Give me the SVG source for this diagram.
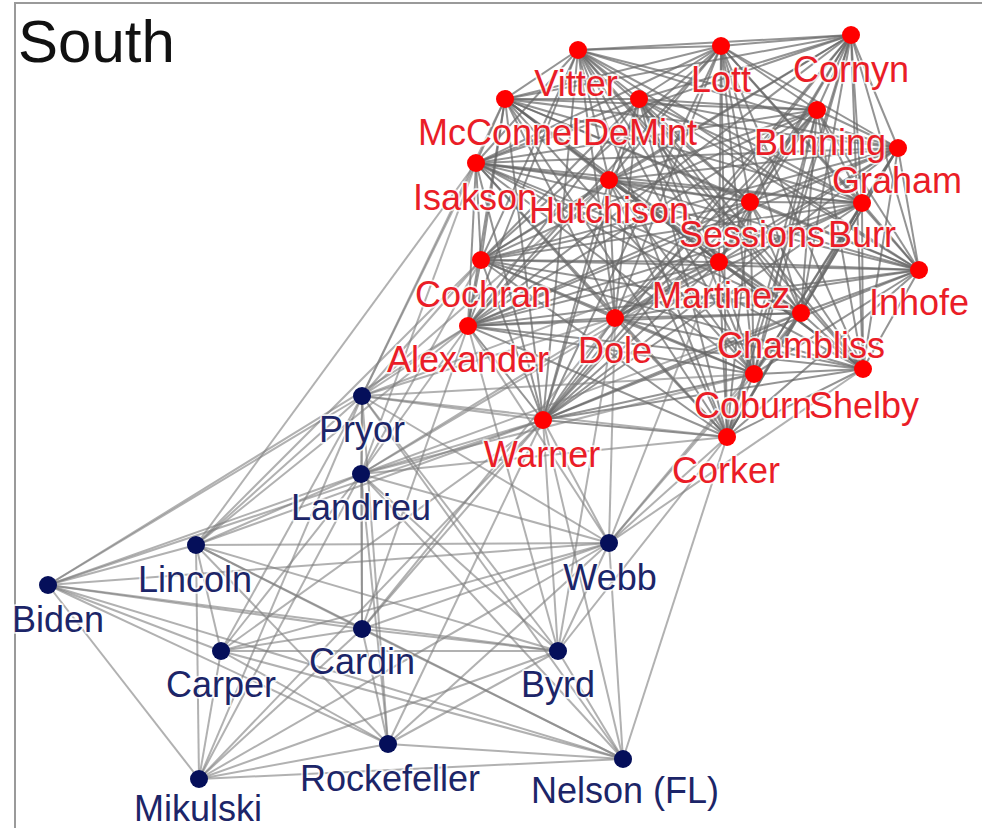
<svg xmlns="http://www.w3.org/2000/svg" width="982" height="828" viewBox="0 0 982 828">
<style>
#edges path{stroke:#7d7d7d;stroke-width:2;stroke-opacity:0.6;fill:none}
#edges #red-edges path{stroke:#666;stroke-opacity:0.7}
.nd text{font-family:"Liberation Sans",Arial,sans-serif;font-size:36px;text-anchor:middle;stroke:#fff;stroke-width:3.5;stroke-opacity:0.8;paint-order:stroke;stroke-linejoin:round}
.r circle{fill:#ff0000}
.r text{fill:#ea1d27}
.b circle{fill:#050f5a}
.b text{fill:#1c2568}
.frame{stroke:#9a9a9a;stroke-width:2;fill:none}
</style>
<rect x="0" y="0" width="982" height="828" fill="#fff"/>
<path class="frame" d="M15 828V3H982"/>
<text x="18" y="62" font-family="'Liberation Sans',Arial,sans-serif" font-size="60" fill="#111">South</text>
<g id="edges">
<g id="red-edges">
<path d="M578 50L721 46"/><path d="M578 50L851 35"/><path d="M578 50L505 99"/><path d="M578 50L639 99"/><path d="M578 50L817 110"/><path d="M578 50L476 163"/><path d="M578 50L609 180"/><path d="M578 50L898 148"/><path d="M578 50L750 202"/><path d="M578 50L862 203"/><path d="M578 50L481 260"/><path d="M578 50L719 262"/><path d="M578 50L919 270"/><path d="M578 50L468 326"/><path d="M578 50L615 318"/><path d="M578 50L801 313"/><path d="M578 50L754 374"/><path d="M578 50L863 369"/><path d="M578 50L543 420"/><path d="M578 50L727 437"/>
<path d="M721 46L851 35"/><path d="M721 46L505 99"/><path d="M721 46L639 99"/><path d="M721 46L817 110"/><path d="M721 46L476 163"/><path d="M721 46L609 180"/><path d="M721 46L898 148"/><path d="M721 46L750 202"/><path d="M721 46L862 203"/><path d="M721 46L481 260"/><path d="M721 46L719 262"/><path d="M721 46L919 270"/><path d="M721 46L468 326"/><path d="M721 46L615 318"/><path d="M721 46L801 313"/><path d="M721 46L754 374"/><path d="M721 46L863 369"/><path d="M721 46L543 420"/><path d="M721 46L727 437"/>
<path d="M851 35L505 99"/><path d="M851 35L639 99"/><path d="M851 35L817 110"/><path d="M851 35L476 163"/><path d="M851 35L609 180"/><path d="M851 35L898 148"/><path d="M851 35L750 202"/><path d="M851 35L862 203"/><path d="M851 35L481 260"/><path d="M851 35L719 262"/><path d="M851 35L919 270"/><path d="M851 35L468 326"/><path d="M851 35L615 318"/><path d="M851 35L801 313"/><path d="M851 35L754 374"/><path d="M851 35L863 369"/><path d="M851 35L543 420"/><path d="M851 35L727 437"/>
<path d="M505 99L639 99"/><path d="M505 99L817 110"/><path d="M505 99L476 163"/><path d="M505 99L609 180"/><path d="M505 99L898 148"/><path d="M505 99L750 202"/><path d="M505 99L862 203"/><path d="M505 99L481 260"/><path d="M505 99L719 262"/><path d="M505 99L919 270"/><path d="M505 99L468 326"/><path d="M505 99L615 318"/><path d="M505 99L801 313"/><path d="M505 99L754 374"/><path d="M505 99L863 369"/><path d="M505 99L543 420"/><path d="M505 99L727 437"/>
<path d="M639 99L817 110"/><path d="M639 99L476 163"/><path d="M639 99L609 180"/><path d="M639 99L898 148"/><path d="M639 99L750 202"/><path d="M639 99L862 203"/><path d="M639 99L481 260"/><path d="M639 99L719 262"/><path d="M639 99L919 270"/><path d="M639 99L468 326"/><path d="M639 99L615 318"/><path d="M639 99L801 313"/><path d="M639 99L754 374"/><path d="M639 99L863 369"/><path d="M639 99L543 420"/><path d="M639 99L727 437"/>
<path d="M817 110L476 163"/><path d="M817 110L609 180"/><path d="M817 110L898 148"/><path d="M817 110L750 202"/><path d="M817 110L862 203"/><path d="M817 110L481 260"/><path d="M817 110L719 262"/><path d="M817 110L919 270"/><path d="M817 110L468 326"/><path d="M817 110L615 318"/><path d="M817 110L801 313"/><path d="M817 110L754 374"/><path d="M817 110L863 369"/><path d="M817 110L543 420"/><path d="M817 110L727 437"/>
<path d="M476 163L609 180"/><path d="M476 163L898 148"/><path d="M476 163L750 202"/><path d="M476 163L862 203"/><path d="M476 163L481 260"/><path d="M476 163L719 262"/><path d="M476 163L919 270"/><path d="M476 163L468 326"/><path d="M476 163L615 318"/><path d="M476 163L801 313"/><path d="M476 163L754 374"/><path d="M476 163L863 369"/><path d="M476 163L543 420"/><path d="M476 163L727 437"/>
<path d="M609 180L898 148"/><path d="M609 180L750 202"/><path d="M609 180L862 203"/><path d="M609 180L481 260"/><path d="M609 180L719 262"/><path d="M609 180L919 270"/><path d="M609 180L468 326"/><path d="M609 180L615 318"/><path d="M609 180L801 313"/><path d="M609 180L754 374"/><path d="M609 180L863 369"/><path d="M609 180L543 420"/><path d="M609 180L727 437"/>
<path d="M898 148L750 202"/><path d="M898 148L862 203"/><path d="M898 148L481 260"/><path d="M898 148L719 262"/><path d="M898 148L919 270"/><path d="M898 148L468 326"/><path d="M898 148L615 318"/><path d="M898 148L801 313"/><path d="M898 148L754 374"/><path d="M898 148L863 369"/><path d="M898 148L543 420"/><path d="M898 148L727 437"/>
<path d="M750 202L862 203"/><path d="M750 202L481 260"/><path d="M750 202L719 262"/><path d="M750 202L919 270"/><path d="M750 202L468 326"/><path d="M750 202L615 318"/><path d="M750 202L801 313"/><path d="M750 202L754 374"/><path d="M750 202L863 369"/><path d="M750 202L543 420"/><path d="M750 202L727 437"/>
<path d="M862 203L481 260"/><path d="M862 203L719 262"/><path d="M862 203L919 270"/><path d="M862 203L468 326"/><path d="M862 203L615 318"/><path d="M862 203L801 313"/><path d="M862 203L754 374"/><path d="M862 203L863 369"/><path d="M862 203L543 420"/><path d="M862 203L727 437"/>
<path d="M481 260L719 262"/><path d="M481 260L919 270"/><path d="M481 260L468 326"/><path d="M481 260L615 318"/><path d="M481 260L801 313"/><path d="M481 260L754 374"/><path d="M481 260L863 369"/><path d="M481 260L543 420"/><path d="M481 260L727 437"/>
<path d="M719 262L919 270"/><path d="M719 262L468 326"/><path d="M719 262L615 318"/><path d="M719 262L801 313"/><path d="M719 262L754 374"/><path d="M719 262L863 369"/><path d="M719 262L543 420"/><path d="M719 262L727 437"/>
<path d="M919 270L468 326"/><path d="M919 270L615 318"/><path d="M919 270L801 313"/><path d="M919 270L754 374"/><path d="M919 270L863 369"/><path d="M919 270L543 420"/><path d="M919 270L727 437"/>
<path d="M468 326L615 318"/><path d="M468 326L801 313"/><path d="M468 326L754 374"/><path d="M468 326L863 369"/><path d="M468 326L543 420"/><path d="M468 326L727 437"/>
<path d="M615 318L801 313"/><path d="M615 318L754 374"/><path d="M615 318L863 369"/><path d="M615 318L543 420"/><path d="M615 318L727 437"/>
<path d="M801 313L754 374"/><path d="M801 313L863 369"/><path d="M801 313L543 420"/><path d="M801 313L727 437"/>
<path d="M754 374L863 369"/><path d="M754 374L543 420"/><path d="M754 374L727 437"/>
<path d="M863 369L543 420"/><path d="M863 369L727 437"/><path d="M543 420L727 437"/>
</g>
<path d="M362 396L361 474"/><path d="M362 396L196 545"/><path d="M362 396L48 585"/><path d="M362 396L609 543"/><path d="M362 396L362 629"/><path d="M362 396L221 651"/><path d="M362 396L558 651"/><path d="M362 396L388 744"/><path d="M362 396L199 779"/><path d="M362 396L623 759"/>
<path d="M361 474L196 545"/><path d="M361 474L48 585"/><path d="M361 474L609 543"/><path d="M361 474L362 629"/><path d="M361 474L221 651"/><path d="M361 474L558 651"/><path d="M361 474L388 744"/><path d="M361 474L199 779"/><path d="M361 474L623 759"/>
<path d="M196 545L48 585"/><path d="M196 545L609 543"/><path d="M196 545L362 629"/><path d="M196 545L221 651"/><path d="M196 545L558 651"/><path d="M196 545L388 744"/><path d="M196 545L199 779"/><path d="M196 545L623 759"/>
<path d="M48 585L609 543"/><path d="M48 585L362 629"/><path d="M48 585L221 651"/><path d="M48 585L558 651"/><path d="M48 585L388 744"/><path d="M48 585L199 779"/><path d="M48 585L623 759"/>
<path d="M609 543L362 629"/><path d="M609 543L221 651"/><path d="M609 543L558 651"/><path d="M609 543L388 744"/><path d="M609 543L199 779"/><path d="M609 543L623 759"/>
<path d="M362 629L221 651"/><path d="M362 629L558 651"/><path d="M362 629L388 744"/><path d="M362 629L199 779"/><path d="M362 629L623 759"/>
<path d="M221 651L558 651"/><path d="M221 651L388 744"/><path d="M221 651L199 779"/><path d="M221 651L623 759"/>
<path d="M558 651L388 744"/><path d="M558 651L199 779"/><path d="M558 651L623 759"/>
<path d="M388 744L199 779"/><path d="M388 744L623 759"/><path d="M199 779L623 759"/>
<path d="M543 420L362 396"/><path d="M543 420L361 474"/><path d="M543 420L196 545"/><path d="M543 420L48 585"/><path d="M543 420L609 543"/><path d="M543 420L362 629"/><path d="M543 420L221 651"/><path d="M543 420L558 651"/><path d="M543 420L388 744"/><path d="M543 420L199 779"/><path d="M543 420L623 759"/>
<path d="M362 396L468 326"/><path d="M362 396L481 260"/><path d="M362 396L476 163"/><path d="M362 396L615 318"/><path d="M362 396L505 99"/><path d="M362 396L609 180"/><path d="M362 396L719 262"/><path d="M362 396L727 437"/><path d="M362 396L754 374"/>
<path d="M361 474L468 326"/><path d="M361 474L481 260"/><path d="M361 474L615 318"/><path d="M361 474L476 163"/><path d="M361 474L719 262"/><path d="M361 474L801 313"/><path d="M361 474L727 437"/><path d="M361 474L754 374"/>
<path d="M196 545L468 326"/><path d="M196 545L481 260"/><path d="M196 545L476 163"/><path d="M48 585L468 326"/>
<path d="M609 543L727 437"/><path d="M609 543L863 369"/><path d="M609 543L754 374"/><path d="M609 543L615 318"/><path d="M609 543L719 262"/><path d="M609 543L801 313"/><path d="M609 543L468 326"/>
<path d="M558 651L615 318"/><path d="M558 651L727 437"/><path d="M558 651L468 326"/>
<path d="M362 629L615 318"/><path d="M362 629L468 326"/><path d="M623 759L727 437"/>
</g>
<g id="n-vitter" class="nd r"><circle cx="578" cy="50" r="9"/><text x="576" y="96">Vitter</text></g>
<g id="n-lott" class="nd r"><circle cx="721" cy="46" r="9"/><text x="721" y="92">Lott</text></g>
<g id="n-cornyn" class="nd r"><circle cx="851" cy="35" r="9"/><text x="851" y="82">Cornyn</text></g>
<g id="n-mcconnel" class="nd r"><circle cx="505" cy="99" r="9"/><text x="499" y="145">McConnel</text></g>
<g id="n-demint" class="nd r"><circle cx="639" cy="99" r="9"/><text x="640" y="145">DeMint</text></g>
<g id="n-bunning" class="nd r"><circle cx="817" cy="110" r="9"/><text x="820" y="155">Bunning</text></g>
<g id="n-graham" class="nd r"><circle cx="898" cy="148" r="9"/><text x="897" y="193">Graham</text></g>
<g id="n-isakson" class="nd r"><circle cx="476" cy="163" r="9"/><text x="475" y="210">Isakson</text></g>
<g id="n-hutchison" class="nd r"><circle cx="609" cy="180" r="9"/><text x="609" y="223">Hutchison</text></g>
<g id="n-sessions" class="nd r"><circle cx="750" cy="202" r="9"/><text x="752" y="247">Sessions</text></g>
<g id="n-burr" class="nd r"><circle cx="862" cy="203" r="9"/><text x="862" y="247">Burr</text></g>
<g id="n-cochran" class="nd r"><circle cx="481" cy="260" r="9"/><text x="483" y="307">Cochran</text></g>
<g id="n-martinez" class="nd r"><circle cx="719" cy="262" r="9"/><text x="721" y="308">Martinez</text></g>
<g id="n-inhofe" class="nd r"><circle cx="919" cy="270" r="9"/><text x="919" y="315">Inhofe</text></g>
<g id="n-alexander" class="nd r"><circle cx="468" cy="326" r="9"/><text x="468" y="372">Alexander</text></g>
<g id="n-dole" class="nd r"><circle cx="615" cy="318" r="9"/><text x="615" y="363">Dole</text></g>
<g id="n-chambliss" class="nd r"><circle cx="801" cy="313" r="9"/><text x="801" y="358">Chambliss</text></g>
<g id="n-coburn" class="nd r"><circle cx="754" cy="374" r="9"/><text x="753" y="418">Coburn</text></g>
<g id="n-shelby" class="nd r"><circle cx="863" cy="369" r="9"/><text x="864" y="418">Shelby</text></g>
<g id="n-warner" class="nd r"><circle cx="543" cy="420" r="9"/><text x="542" y="467">Warner</text></g>
<g id="n-corker" class="nd r"><circle cx="727" cy="437" r="9"/><text x="726" y="483">Corker</text></g>
<g id="n-pryor" class="nd b"><circle cx="362" cy="396" r="9"/><text x="362" y="442">Pryor</text></g>
<g id="n-landrieu" class="nd b"><circle cx="361" cy="474" r="9"/><text x="361" y="520">Landrieu</text></g>
<g id="n-lincoln" class="nd b"><circle cx="196" cy="545" r="9"/><text x="195" y="592">Lincoln</text></g>
<g id="n-biden" class="nd b"><circle cx="48" cy="585" r="9"/><text x="58" y="632">Biden</text></g>
<g id="n-webb" class="nd b"><circle cx="609" cy="543" r="9"/><text x="610" y="590">Webb</text></g>
<g id="n-cardin" class="nd b"><circle cx="362" cy="629" r="9"/><text x="362" y="674">Cardin</text></g>
<g id="n-carper" class="nd b"><circle cx="221" cy="651" r="9"/><text x="221" y="697">Carper</text></g>
<g id="n-byrd" class="nd b"><circle cx="558" cy="651" r="9"/><text x="558" y="697">Byrd</text></g>
<g id="n-rockefeller" class="nd b"><circle cx="388" cy="744" r="9"/><text x="390" y="791">Rockefeller</text></g>
<g id="n-mikulski" class="nd b"><circle cx="199" cy="779" r="9"/><text x="198" y="821">Mikulski</text></g>
<g id="n-nelson" class="nd b"><circle cx="623" cy="759" r="9"/><text x="625" y="803">Nelson (FL)</text></g>
</svg>
